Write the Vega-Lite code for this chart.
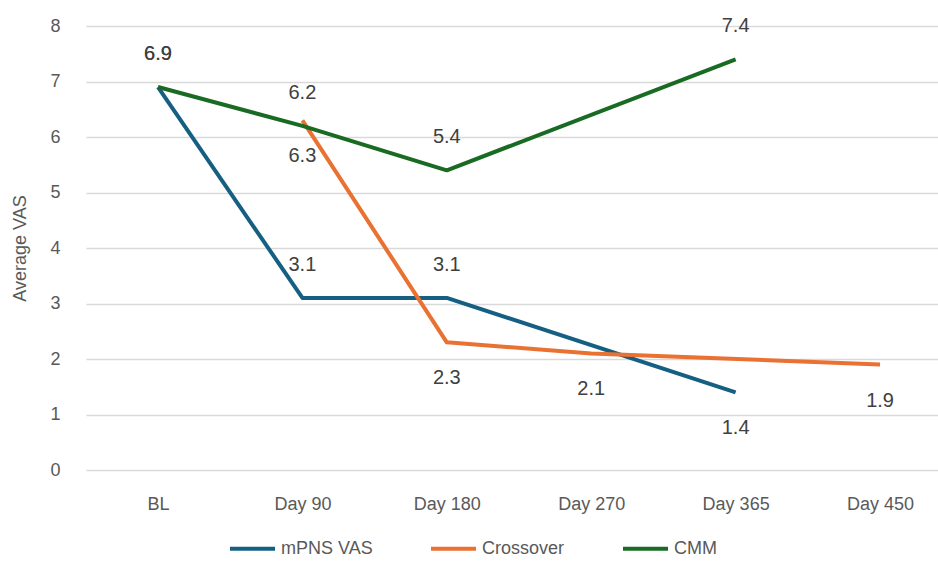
{
  "$schema": "https://vega.github.io/schema/vega-lite/v6.json",
  "width": 852,
  "height": 444,
  "autosize": {"type": "none"},
  "padding": {"left": 86, "top": 26, "right": 0, "bottom": 98},
  "background": "white",
  "data": {
    "values": [
      {"series": "mPNS VAS", "time": "BL", "value": 6.9},
      {"series": "mPNS VAS", "time": "Day 90", "value": 3.1},
      {"series": "mPNS VAS", "time": "Day 180", "value": 3.1},
      {"series": "mPNS VAS", "time": "Day 365", "value": 1.4},
      {"series": "Crossover", "time": "Day 90", "value": 6.3},
      {"series": "Crossover", "time": "Day 180", "value": 2.3},
      {"series": "Crossover", "time": "Day 270", "value": 2.1},
      {"series": "Crossover", "time": "Day 450", "value": 1.9},
      {"series": "CMM", "time": "BL", "value": 6.9},
      {"series": "CMM", "time": "Day 90", "value": 6.2},
      {"series": "CMM", "time": "Day 180", "value": 5.4},
      {"series": "CMM", "time": "Day 365", "value": 7.4}
    ]
  },
  "encoding": {
    "x": {
      "field": "time",
      "type": "ordinal",
      "sort": ["BL", "Day 90", "Day 180", "Day 270", "Day 365", "Day 450"],
      "scale": {"type": "point", "domain": ["BL", "Day 90", "Day 180", "Day 270", "Day 365", "Day 450"], "padding": 0.45, "align": 0.554},
      "axis": {
        "title": null,
        "labelAngle": 0,
        "domain": false,
        "ticks": false,
        "grid": false,
        "labelPadding": 25,
        "labelFont": "Liberation Sans",
        "labelFontSize": 18,
        "labelColor": "#595959"
      }
    },
    "y": {
      "field": "value",
      "type": "quantitative",
      "scale": {"domain": [0, 8], "nice": false},
      "axis": {
        "title": "Average VAS",
        "titleFont": "Liberation Sans",
        "titleFontSize": 18,
        "titleFontWeight": "normal",
        "titleColor": "#595959",
        "titlePadding": 20,
        "labelFont": "Liberation Sans",
        "labelFontSize": 18,
        "labelColor": "#595959",
        "labelPadding": 26,
        "domain": false,
        "ticks": false,
        "tickCount": 8,
        "gridColor": "#d9d9d9",
        "gridWidth": 1.5
      }
    }
  },
  "layer": [
    {
      "mark": {"type": "line", "strokeWidth": 4, "strokeJoin": "round"},
      "encoding": {
        "color": {
          "field": "series",
          "type": "nominal",
          "scale": {"domain": ["mPNS VAS", "Crossover", "CMM"], "range": ["#156082", "#E97132", "#196B24"]},
          "legend": {
            "title": null,
            "orient": "none",
            "legendX": 142,
            "legendY": 498,
            "direction": "horizontal",
            "symbolType": "stroke",
            "symbolSize": 2025,
            "symbolStrokeWidth": 4,
            "labelFont": "Liberation Sans",
            "labelFontSize": 18,
            "labelColor": "#595959",
            "labelOffset": 4,
            "columnPadding": 50
          }
        }
      }
    },
    {
      "transform": [{"filter": "datum.series !== 'Crossover' && !(datum.series === 'mPNS VAS' && datum.time === 'Day 365')"}],
      "mark": {"type": "text", "dy": -33, "baseline": "middle", "font": "Liberation Sans", "fontSize": 20, "color": "#404040"},
      "encoding": {"text": {"field": "value", "type": "quantitative", "format": ".1f"}}
    },
    {
      "transform": [{"filter": "datum.series === 'Crossover' || (datum.series === 'mPNS VAS' && datum.time === 'Day 365')"}],
      "mark": {"type": "text", "dy": 36, "baseline": "middle", "font": "Liberation Sans", "fontSize": 20, "color": "#404040"},
      "encoding": {"text": {"field": "value", "type": "quantitative", "format": ".1f"}}
    }
  ],
  "config": {"view": {"stroke": null}}
}
